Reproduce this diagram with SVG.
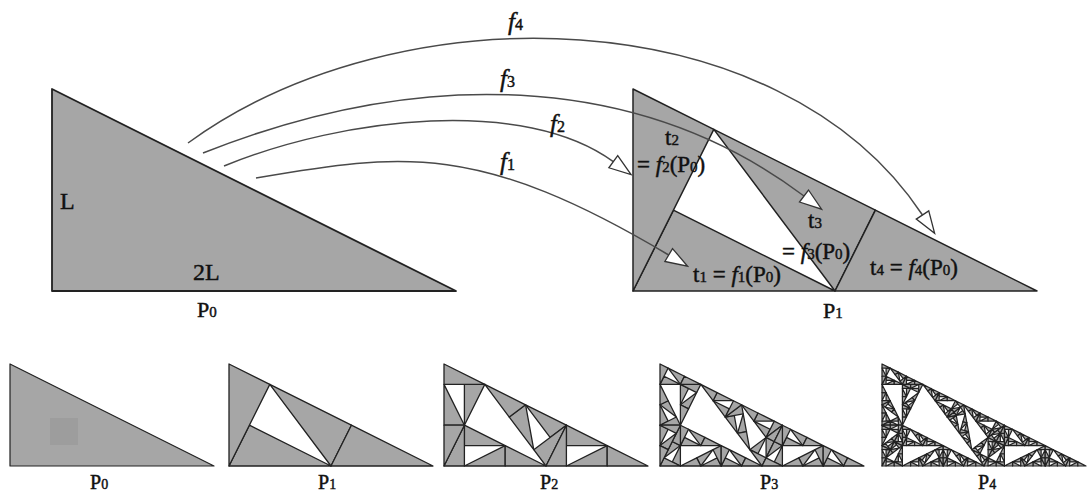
<svg xmlns="http://www.w3.org/2000/svg" width="1088" height="494" viewBox="0 0 1088 494">
<style>
.tri{fill:#a6a6a6;stroke:#222;stroke-linejoin:round}
.arc{fill:none;stroke:#4a4a4a;stroke-width:1.5;marker-end:url(#ah)}
.lbl{font-family:"Liberation Serif","Times New Roman",serif;fill:#111;stroke:#111;stroke-width:0.45}
.it{font-style:italic}
.up{font-style:normal}
</style>
<defs>
<marker id="ah" markerUnits="userSpaceOnUse" markerWidth="26" markerHeight="18" viewBox="-2 -1.5 26 18" refX="0" refY="7.5" orient="auto">
<path d="M0,0 L22,7.5 L0,15 Z" fill="#fff" stroke="#333" stroke-width="1.3"/>
</marker>
<polygon id="T" class="tri" points="0,0 0,1 2,1"/>
<g id="L1">
<use href="#T" transform="matrix(0.4 0.2 0.2 -0.4 0 1)"/>
<use href="#T" transform="matrix(-0.2 0.4 0.4 0.2 0 0)"/>
<use href="#T" transform="matrix(-0.4 -0.2 0.2 -0.4 1 1)"/>
<use href="#T" transform="matrix(0.4 0.2 0.2 -0.4 1 1)"/>
</g>
<g id="L2">
<use href="#L1" transform="matrix(0.4 0.2 0.2 -0.4 0 1)"/>
<use href="#L1" transform="matrix(-0.2 0.4 0.4 0.2 0 0)"/>
<use href="#L1" transform="matrix(-0.4 -0.2 0.2 -0.4 1 1)"/>
<use href="#L1" transform="matrix(0.4 0.2 0.2 -0.4 1 1)"/>
</g>
<g id="L3">
<use href="#L2" transform="matrix(0.4 0.2 0.2 -0.4 0 1)"/>
<use href="#L2" transform="matrix(-0.2 0.4 0.4 0.2 0 0)"/>
<use href="#L2" transform="matrix(-0.4 -0.2 0.2 -0.4 1 1)"/>
<use href="#L2" transform="matrix(0.4 0.2 0.2 -0.4 1 1)"/>
</g>
<g id="L4">
<use href="#L3" transform="matrix(0.4 0.2 0.2 -0.4 0 1)"/>
<use href="#L3" transform="matrix(-0.2 0.4 0.4 0.2 0 0)"/>
<use href="#L3" transform="matrix(-0.4 -0.2 0.2 -0.4 1 1)"/>
<use href="#L3" transform="matrix(0.4 0.2 0.2 -0.4 1 1)"/>
</g>
</defs>
<rect width="1088" height="494" fill="#fff"/>

<g id="big-P0">
<use href="#T" transform="translate(52,89) scale(202)" stroke-width="0.009"/>
<text class="lbl" x="60" y="209" font-size="24">L</text>
<text class="lbl" x="193" y="280" font-size="24">2L</text>
<text class="lbl" x="197" y="317" font-size="22">P<tspan font-size="15">0</tspan></text>
</g>

<g id="big-P1">
<use href="#L1" transform="translate(633,89) scale(202)" stroke-width="0.0166"/>
</g>

<g id="connectors">
<path class="arc" d="M256,178 C403.8,152.5 479.7,142.4 668.7,255"/>
<path class="arc" d="M224,166 C344.9,116.6 524.5,96.8 613.3,161.7"/>
<path class="arc" d="M203,153 C416.9,67.9 636,70 804,196"/>
<path class="arc" d="M188,143 C398.6,-10.4 779,-2.1 922.5,215"/>
<text class="lbl it" x="500" y="170" font-size="25">f<tspan class="up" font-size="16">1</tspan></text>
<text class="lbl it" x="550" y="132" font-size="25">f<tspan class="up" font-size="16">2</tspan></text>
<text class="lbl it" x="500" y="87" font-size="25">f<tspan class="up" font-size="16">3</tspan></text>
<text class="lbl it" x="508" y="30" font-size="25">f<tspan class="up" font-size="16">4</tspan></text>
</g>

<g id="big-P1-labels">
<text class="lbl" x="665" y="145" font-size="23">t<tspan font-size="15">2</tspan></text>
<text class="lbl" x="637" y="172" font-size="23">= <tspan class="it">f</tspan><tspan font-size="15">2</tspan>(P<tspan font-size="15">0</tspan>)</text>
<text class="lbl" x="808" y="228" font-size="23">t<tspan font-size="15">3</tspan></text>
<text class="lbl" x="782" y="259" font-size="23">= <tspan class="it">f</tspan><tspan font-size="15">3</tspan>(P<tspan font-size="15">0</tspan>)</text>
<text class="lbl" x="693" y="282" font-size="23">t<tspan font-size="15">1</tspan> = <tspan class="it">f</tspan><tspan font-size="15">1</tspan>(P<tspan font-size="15">0</tspan>)</text>
<text class="lbl" x="870" y="275" font-size="23">t<tspan font-size="15">4</tspan> = <tspan class="it">f</tspan><tspan font-size="15">4</tspan>(P<tspan font-size="15">0</tspan>)</text>
<text class="lbl" x="823" y="318" font-size="22">P<tspan font-size="15">1</tspan></text>
</g>

<g id="small-P0">
<use href="#T" transform="translate(10,364) scale(102)" stroke-width="0.0118"/>
<rect x="50" y="418" width="28" height="27" fill="#9d9d9d"/>
<text class="lbl" x="90" y="489" font-size="20">P<tspan font-size="14">0</tspan></text>
</g>
<g id="small-P1">
<use href="#L1" transform="translate(229,364) scale(102)" stroke-width="0.0285"/>
<text class="lbl" x="318" y="489" font-size="20">P<tspan font-size="14">1</tspan></text>
</g>
<g id="small-P2">
<use href="#L2" transform="translate(444,364) scale(102)" stroke-width="0.064"/>
<text class="lbl" x="540" y="489" font-size="20">P<tspan font-size="14">2</tspan></text>
</g>
<g id="small-P3">
<use href="#L3" transform="translate(660,364) scale(102)" stroke-width="0.14"/>
<text class="lbl" x="760" y="489" font-size="20">P<tspan font-size="14">3</tspan></text>
</g>
<g id="small-P4">
<use href="#L4" transform="translate(882,364) scale(102)" stroke-width="0.3"/>
<text class="lbl" x="978" y="489" font-size="20">P<tspan font-size="14">4</tspan></text>
</g>
</svg>
